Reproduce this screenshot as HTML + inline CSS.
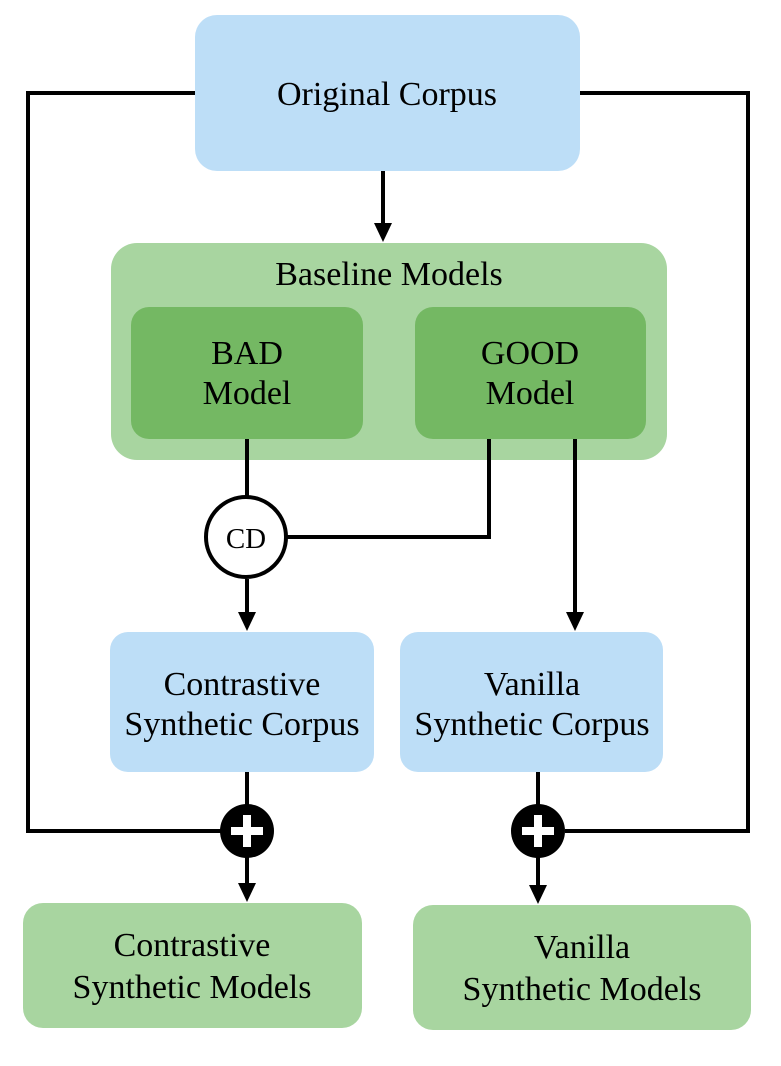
<!DOCTYPE html>
<html><head><style>
body{margin:0;background:#fff;}
svg text{font-family:"Liberation Serif",serif;font-size:34px;fill:#000;text-anchor:middle;}
</style></head><body>
<svg width="781" height="1061" viewBox="0 0 781 1061" xmlns="http://www.w3.org/2000/svg">
<rect x="195" y="15" width="385" height="156" rx="22" fill="#BDDEF7"/>
<text x="387" y="105">Original Corpus</text>
<rect x="111" y="243" width="556" height="217" rx="26" fill="#A8D5A0"/>
<text x="389" y="285">Baseline Models</text>
<rect x="131" y="307" width="232" height="132" rx="18" fill="#74B863"/>
<text x="247" y="364">BAD</text><text x="247" y="404">Model</text>
<rect x="415" y="307" width="231" height="132" rx="18" fill="#74B863"/>
<text x="530" y="364">GOOD</text><text x="530" y="404">Model</text>
<g fill="none" stroke="#000" stroke-width="4">
<polyline points="195,93 28,93 28,831 222,831"/>
<polyline points="580,93 748,93 748,831 565,831"/>
<line x1="247" y1="439" x2="247" y2="497"/>
<polyline points="489,439 489,537 287,537"/>
<line x1="247" y1="579" x2="247" y2="614"/>
<line x1="575" y1="439" x2="575" y2="614"/>
<line x1="383" y1="171" x2="383" y2="225"/>
<line x1="247" y1="772" x2="247" y2="885"/>
<line x1="538" y1="772" x2="538" y2="887"/>
</g>
<g fill="#000">
<path d="M374,223 L392,223 L383,242 Z"/>
<path d="M238,612 L256,612 L247,631 Z"/>
<path d="M566,612 L584,612 L575,631 Z"/>
<path d="M238,883 L256,883 L247,902 Z"/>
<path d="M529,885 L547,885 L538,904 Z"/>
</g>
<circle cx="246" cy="537" r="40" fill="#fff" stroke="#000" stroke-width="4"/>
<text x="246" y="548" style="font-size:29px">CD</text>
<rect x="110" y="632" width="264" height="140" rx="18" fill="#BDDEF7"/>
<text x="242" y="695">Contrastive</text><text x="242" y="735">Synthetic Corpus</text>
<rect x="400" y="632" width="263" height="140" rx="18" fill="#BDDEF7"/>
<text x="532" y="695">Vanilla</text><text x="532" y="735">Synthetic Corpus</text>
<circle cx="247" cy="831" r="27" fill="#000"/>
<path d="M247,815 V847 M231,831 H263" stroke="#fff" stroke-width="8"/>
<circle cx="538" cy="831" r="27" fill="#000"/>
<path d="M538,815 V847 M522,831 H554" stroke="#fff" stroke-width="8"/>
<rect x="23" y="903" width="339" height="125" rx="20" fill="#A8D5A0"/>
<text x="192" y="956">Contrastive</text><text x="192" y="998">Synthetic Models</text>
<rect x="413" y="905" width="338" height="125" rx="20" fill="#A8D5A0"/>
<text x="582" y="958">Vanilla</text><text x="582" y="1000">Synthetic Models</text>
</svg>
</body></html>
